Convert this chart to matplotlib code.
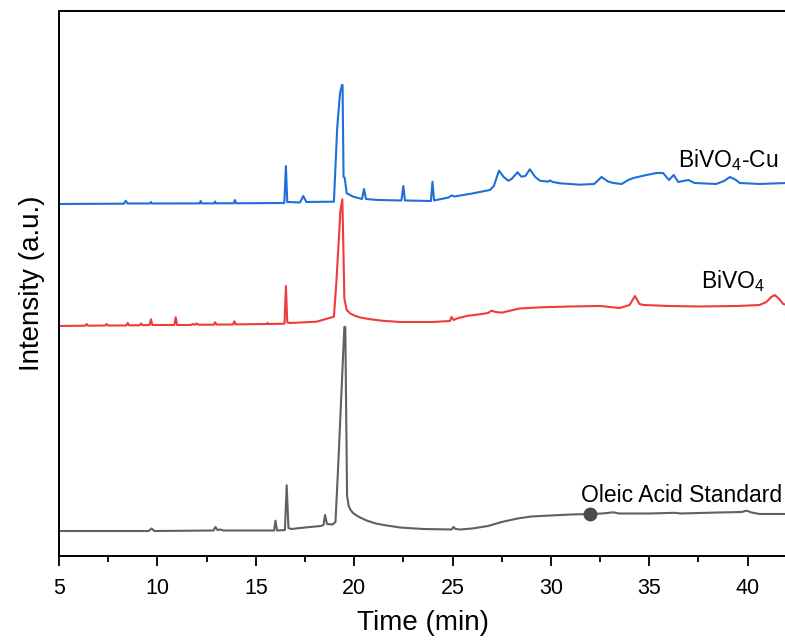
import matplotlib
matplotlib.use("Agg")
import matplotlib.pyplot as plt
from matplotlib.ticker import MultipleLocator

plt.rcParams['font.family'] = ['Liberation Sans', 'DejaVu Sans']
plt.rcParams['mathtext.fontset'] = 'custom'
plt.rcParams['mathtext.rm'] = 'Liberation Sans'
plt.rcParams['mathtext.default'] = 'regular'

# oleic acid standard (grey)
t_std = [5.0, 9.55, 9.7, 9.85, 12.85, 12.95, 13.05, 13.2, 13.35, 15.93, 16.0, 16.08,
         16.48, 16.57, 16.66, 16.8, 17.5, 18.3, 18.44, 18.52, 18.62, 18.9, 19.05, 19.2,
         19.5, 19.55, 19.6, 19.64, 19.72, 19.82, 19.94, 20.2, 20.63, 21.1, 21.5, 22.33,
         23.5, 24.95, 25.05, 25.15, 25.4, 26.0, 26.8, 27.5, 28.3, 29.0, 30.0, 31.0, 32.0,
         32.6, 33.17, 33.45, 35.0, 36.3, 36.6, 38.5, 39.7, 39.94, 40.2, 40.6, 42.0]
y_std = [25, 25, 27.5, 25, 25.5, 29, 26, 26.5, 25.5, 25.5, 35.3, 25.5,
         26, 70.7, 28, 27, 28.5, 30, 31, 41, 32, 31.5, 34, 95,
         229, 229, 130, 60, 50, 46, 43, 39.5, 35.5, 32.5, 31, 28.5,
         27, 26.5, 29, 27, 26.5, 27.5, 30, 34, 37.5, 39.5, 40.5, 41.5, 42,
         42.5, 43.7, 42.5, 42.5, 43.2, 42.5, 43.5, 44, 45.3, 43.5, 42, 42]

# BiVO4 (red)
t_bv = [5.0, 6.33, 6.4, 6.47, 7.35, 7.42, 7.49, 8.42, 8.49, 8.56, 9.1, 9.17, 9.24,
        9.6, 9.67, 9.74, 10.86, 10.93, 11.0, 11.7, 11.8, 11.9, 11.99, 12.08, 12.86,
        12.93, 13.0, 13.84, 13.91, 13.98, 15.55, 15.6, 15.65, 16.46, 16.53, 16.6, 16.75,
        18.09, 18.97, 19.1, 19.3, 19.4, 19.46, 19.5, 19.62, 19.8, 20.0, 20.3, 20.8,
        21.4, 22.33, 24.0, 24.87, 24.95, 25.05, 25.3, 25.8, 26.4, 26.8, 26.98, 27.2,
        27.5, 28.4, 29.5, 31.0, 32.5, 33.5, 34.0, 34.27, 34.5, 34.7, 36.0, 37.5, 39.5,
        40.6, 40.95, 41.2, 41.38, 41.6, 41.8, 42.0]
y_bv = [230, 230.3, 232, 230.3, 230.5, 232, 230.5, 230.5, 233, 230.7, 230.7, 232.5, 230.8,
        231, 236.7, 231, 231, 238.7, 231, 231, 232, 231.2, 232.5, 231.3, 231.3,
        233.7, 231.4, 231.5, 234.7, 231.6, 232, 233, 232, 232.3, 270, 233.5, 233,
        234.3, 239.3, 275, 345, 356.7, 300, 257.7, 246, 242.5, 240.5, 238.5, 236.8,
        235.3, 234, 234, 235, 239, 236, 238, 240.3, 241.7, 243, 245.3, 244,
        243.3, 247.5, 248.7, 249.5, 250, 248, 251, 260, 252, 251, 250, 249.5, 250,
        251, 254, 259, 261, 257, 252, 251]

# BiVO4-Cu (blue)
t_cu = [5.0, 8.3, 8.39, 8.48, 9.62, 9.67, 9.72, 12.15, 12.2, 12.25, 12.88, 12.93, 12.98,
        13.88, 13.94, 14.0, 16.45, 16.53, 16.6, 17.25, 17.41, 17.57, 18.97, 19.14, 19.28,
        19.38, 19.41, 19.46, 19.52, 19.62, 19.95, 20.4, 20.5, 20.6, 21.2, 22.4, 22.5,
        22.58, 23.9, 23.98, 24.06, 24.8, 24.95, 25.1, 26.0, 26.9, 27.1, 27.36, 27.6,
        27.83, 28.0, 28.3, 28.5, 28.7, 28.93, 29.2, 29.44, 29.85, 29.95, 30.1, 30.46,
        31.47, 32.2, 32.57, 32.9, 33.17, 33.6, 33.93, 34.2, 34.86, 35.37, 35.7, 35.87,
        36.0, 36.24, 36.47, 36.98, 37.3, 38.4, 38.8, 39.1, 39.4, 39.6, 40.6, 42.0]
y_cu = [352, 352.3, 355.3, 352.5, 352.5, 354, 352.5, 352.6, 355, 352.6, 352.6, 354.5, 352.7,
        352.7, 356, 352.7, 353, 390, 354, 353.5, 360, 354, 354.3, 429, 462.7,
        471, 471, 379.3, 378, 362.7, 359.3, 357, 367, 357, 356, 355.5, 370,
        355.5, 355, 374.3, 355.5, 358.5, 360.5, 359.5, 362.5, 366, 370, 385.3, 379,
        375.3, 377, 383.7, 379.3, 380, 386.7, 379, 375.3, 374.3, 375.5, 374, 372.7,
        371.3, 372, 379, 374.5, 373, 372, 376, 378, 381, 383, 383, 379,
        376, 381, 374, 376, 373, 372, 375, 379, 376, 373, 372, 373]

fig = plt.figure(figsize=(7.85, 6.4), dpi=100)
ax = fig.add_axes([0.0752, 0.13125, 0.9274, 0.8516])

ax.plot(t_std, y_std, color='#606060', lw=1.5)
ax.plot(t_bv, y_bv, color='#ef3b3b', lw=1.5)
ax.plot(t_cu, y_cu, color='#1f6fdb', lw=1.5)
ax.plot([32.0], [42.0], 'o', color='#4a4a4a', ms=9)

ax.text(41.59, 389, r'BiVO$_4$-Cu', ha='right', va='baseline', fontsize=16.5)
ax.text(40.87, 268, r'BiVO$_4$', ha='right', va='baseline', fontsize=16.5)
ax.text(41.74, 54, 'Oleic Acid Standard', ha='right', va='baseline', fontsize=16.5)

ax.set_xlim(5, 42)
ax.set_ylim(0, 545)
ax.xaxis.set_major_locator(MultipleLocator(5))
ax.xaxis.set_minor_locator(MultipleLocator(2.5))
ax.set_yticks([])
ax.tick_params(axis='x', which='major', direction='out', length=7, width=1.3,
               labelsize=15.5, pad=9)
ax.tick_params(axis='x', which='minor', direction='out', length=4, width=1.3)
for s in ax.spines.values():
    s.set_linewidth(1.4)
ax.spines['right'].set_visible(False)

ax.set_xlabel('Time (min)', fontsize=20, labelpad=8)
ax.set_ylabel('Intensity (a.u.)', fontsize=20, labelpad=10)

fig.savefig('out.png', dpi=100)
